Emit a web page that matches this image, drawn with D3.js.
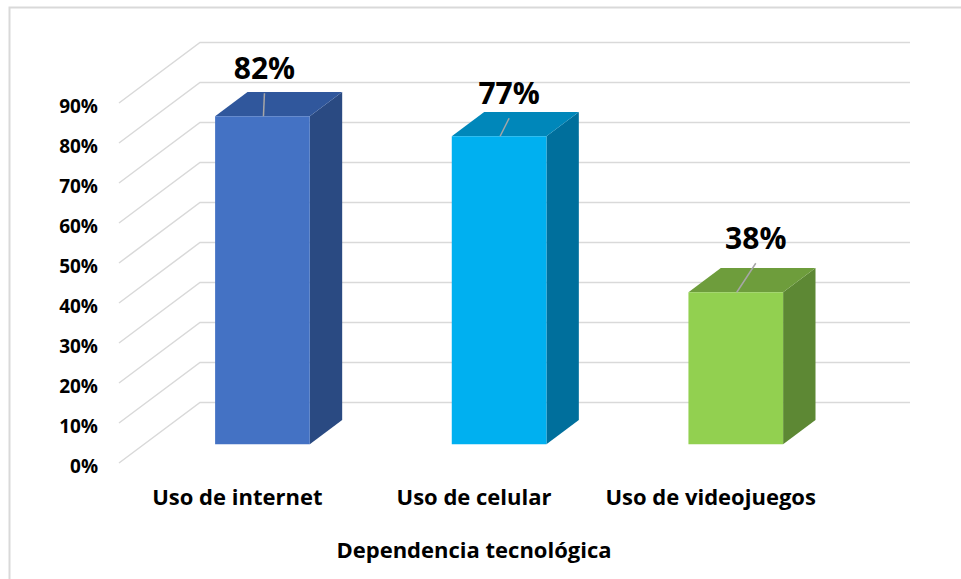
<!DOCTYPE html>
<html><head><meta charset="utf-8">
<script src="https://cdn.jsdelivr.net/npm/d3@7"></script>
<style>
html,body{margin:0;padding:0;background:#fff;}
svg{display:block;font-family:"Open Sans", Lato, sans-serif;}
</style></head>
<body><svg id="c" width="961" height="579"></svg>
<script>
const categories = ["Uso de internet", "Uso de celular", "Uso de videojuegos"];
const values = [0.82, 0.77, 0.38];
const valueLabels = ["82%", "77%", "38%"];
const yTicks = [0, 0.1, 0.2, 0.3, 0.4, 0.5, 0.6, 0.7, 0.8, 0.9];
const axisTitle = "Dependencia tecnológica";
const frontColors = ["#4472C4", "#00B0F0", "#92D050"];
const topColors = ["#30579C", "#0087BA", "#6E9D3C"];
const sideColors = ["#2A4A82", "#006F9C", "#5D8834"];
// label placement nudges (layout, px)
const labelDx = [1, 9, 19];
const labelDy = [-37, -32, -43];

const svg = d3.select("#c");
svg.append("path").attr("d","M9.5,580 L9.5,7.5 L962,7.5").attr("fill","none").attr("stroke","#d9d9d9").attr("stroke-width",2);

const y = d3.scaleLinear().domain([0, 0.9]).range([463, 103]);
const x = d3.scaleBand().domain(categories).range([119, 829]).padding(0);
const DX = 81, DY = -60.5;
const z0 = 0.31, z1 = 0.71;
const proj = (px, v, z) => [px + z*DX, y(v) + z*DY];

const grid = svg.append("g").attr("stroke","#d9d9d9").attr("stroke-width",1.5).attr("fill","none");
yTicks.forEach(t => {
  const a = proj(119, t, 0), b = proj(119, t, 1), c = [910, b[1]];
  grid.append("path").attr("d", `M${a[0]},${a[1]}L${b[0]},${b[1]}L${c[0]},${c[1]}`);
});

const yAxis = d3.axisLeft(y).tickValues(yTicks).tickSize(0).tickPadding(21).tickFormat(d3.format(".0%"));
const ya = svg.append("g").attr("transform","translate(119,3)").call(yAxis);
ya.select(".domain").remove();
ya.selectAll("text").attr("font-family","'Open Sans'").attr("font-weight","bold").attr("font-size",19).attr("fill","#000");

const bw = x.bandwidth()*0.4;
const bars = svg.append("g");
categories.forEach((c, i) => {
  const xl = x(c) + x.bandwidth()/2 - bw/2, xr = xl + bw, v = values[i];
  const fl0 = proj(xl, 0, z0), fr0 = proj(xr, 0, z0), flt = proj(xl, v, z0), frt = proj(xr, v, z0);
  const br0 = proj(xr, 0, z1), brt = proj(xr, v, z1), blt = proj(xl, v, z1);
  const g = bars.append("g");
  g.append("path").attr("d", `M${fr0}L${br0}L${brt}L${frt}Z`).attr("fill", sideColors[i]);
  g.append("path").attr("d", `M${flt}L${frt}L${brt}L${blt}Z`).attr("fill", topColors[i]);
  g.append("path").attr("d", `M${fl0}L${fr0}L${frt}L${flt}Z`).attr("fill", frontColors[i]);
  const cx = (flt[0]+frt[0])/2 + 1, cy = flt[1];
  const lx = cx + labelDx[i], ly = cy + labelDy[i];
  g.append("line").attr("x1", cx).attr("y1", cy).attr("x2", lx).attr("y2", ly+14)
    .attr("stroke","#a6a6a6").attr("stroke-width",1.5);
  g.append("text").attr("x", lx).attr("y", ly).attr("text-anchor","middle")
    .attr("font-family","'Open Sans'").attr("font-weight","bold").attr("font-size",30).attr("fill","#000")
    .text(valueLabels[i]);
});

const xAxis = d3.axisBottom(x).tickSize(0).tickPadding(0);
const xa = svg.append("g").attr("transform","translate(0,505)").call(xAxis);
xa.select(".domain").remove();
xa.selectAll("text").attr("dy", 0).attr("font-family","'Open Sans'").attr("font-weight","bold").attr("font-size",22).attr("fill","#000");

svg.append("text").attr("x", 474).attr("y", 558).attr("text-anchor","middle")
  .attr("font-family","'Open Sans'").attr("font-weight","bold").attr("font-size",22).attr("fill","#000").text(axisTitle);
</script></body></html>
